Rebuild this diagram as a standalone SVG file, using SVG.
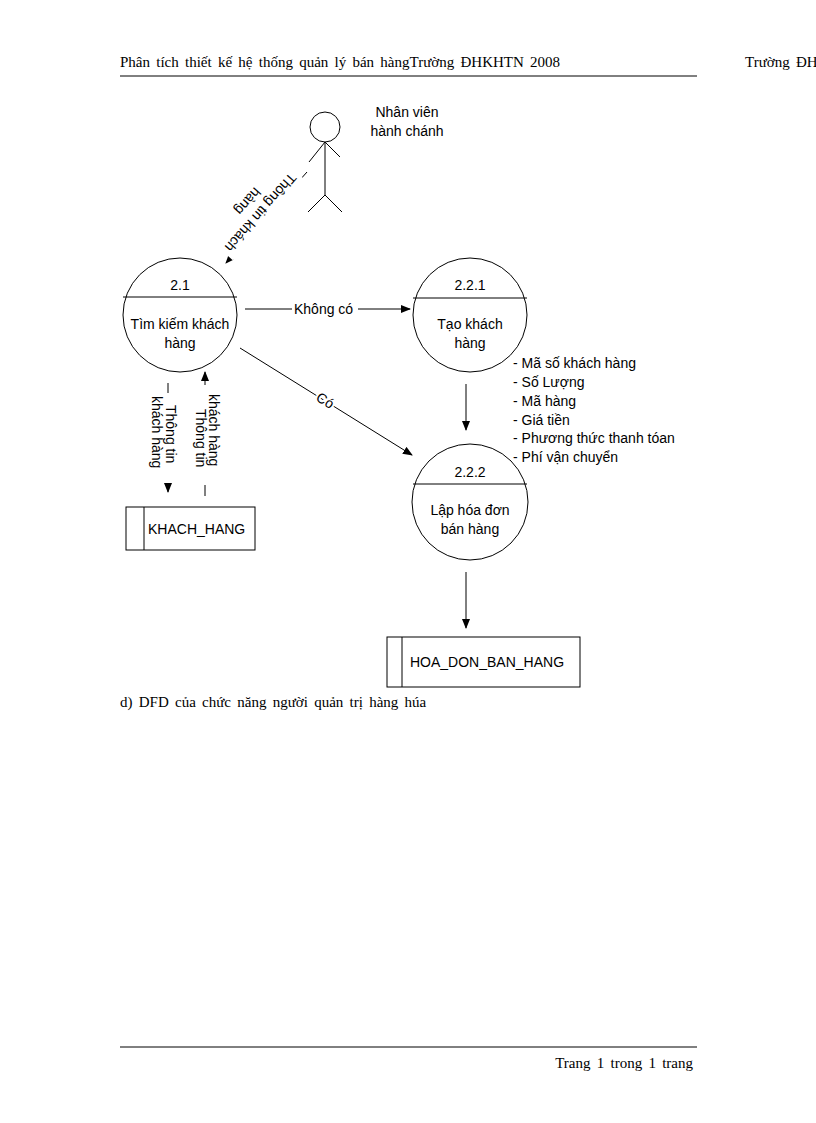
<svg xmlns="http://www.w3.org/2000/svg" width="816" height="1123" viewBox="0 0 816 1123">
<style>
.s{fill:none;stroke:#000;stroke-width:1}
.t{font-family:"Liberation Sans",Arial,sans-serif;font-size:14px;fill:#000}
.c{text-anchor:middle}
.h{font-family:"Liberation Serif","Times New Roman",serif;font-size:15px;word-spacing:2.5px;fill:#000}
</style>
<defs><marker id="a" markerWidth="10" markerHeight="8" refX="9" refY="4" orient="auto" markerUnits="userSpaceOnUse"><path d="M0,0L10,4L0,8z" fill="#000"/></marker></defs>
<rect width="816" height="1123" fill="#fff"/>
<text class="h" x="120" y="67">Phân tích thiết kế hệ thống quản lý bán hàngTrường  ĐHKHTN 2008</text>
<text class="h" x="745" y="67">Trường ĐH</text>
<line class="s" x1="120" y1="76" x2="697" y2="76"/>
<line class="s" x1="120" y1="1047" x2="697" y2="1047"/>
<text class="h" x="693" y="1068" text-anchor="end">Trang  1 trong  1 trang</text>
<text class="h" x="120" y="707">d) DFD của chức năng người quản trị hàng húa</text>

<g id="actor">
<circle class="s" cx="325" cy="127" r="15"/>
<line class="s" x1="325" y1="142" x2="325" y2="195"/>
<line class="s" x1="309" y1="162" x2="325" y2="142"/><line class="s" x1="340" y1="157" x2="325" y2="142"/>
<line class="s" x1="308" y1="212" x2="325" y2="195"/><line class="s" x1="342" y1="212" x2="325" y2="195"/>
<text class="t c" x="407" y="117">Nhân viên</text><text class="t c" x="407" y="136">hành chánh</text>
</g>
<g id="p21">
<circle class="s" cx="180" cy="315" r="57"/><line class="s" x1="123" y1="297" x2="237" y2="297"/>
<text class="t c" x="180" y="290">2.1</text><text class="t c" x="180" y="329">Tìm kiếm khách</text><text class="t c" x="180" y="348">hàng</text>
</g>
<g id="p221">
<circle class="s" cx="470" cy="315" r="57"/><line class="s" x1="413" y1="298" x2="527" y2="298"/>
<text class="t c" x="470" y="290">2.2.1</text><text class="t c" x="470" y="329">Tạo khách</text><text class="t c" x="470" y="348">hàng</text>
</g>
<g id="p222">
<circle class="s" cx="470" cy="502" r="58"/><line class="s" x1="413" y1="484" x2="527" y2="484"/>
<text class="t c" x="470" y="477">2.2.2</text><text class="t c" x="470" y="515">Lập hóa đơn</text><text class="t c" x="470" y="534">bán hàng</text>
</g>
<g id="kh">
<rect class="s" x="126" y="507" width="129" height="43"/><line class="s" x1="144" y1="507" x2="144" y2="550"/>
<text class="t" x="148" y="534">KHACH_HANG</text>
</g>
<g id="hd">
<rect class="s" x="387" y="637" width="193" height="50"/><line class="s" x1="402" y1="637" x2="402" y2="687"/>
<text class="t" x="410" y="667">HOA_DON_BAN_HANG</text>
</g>
<g id="edges">
<line class="s" x1="307" y1="172" x2="226" y2="263" marker-end="url(#a)"/>
<g transform="translate(290,172) rotate(131.5)"><rect x="-4" y="-16" width="108" height="38" fill="#fff"/><text class="t" x="0" y="0">Thông tin khách</text><text class="t c" x="50" y="17">hàng</text></g>
<line class="s" x1="245" y1="309" x2="410" y2="309" marker-end="url(#a)"/>
<rect x="292" y="300" width="66" height="18" fill="#fff"/><text class="t" x="294" y="314">Không có</text>
<line class="s" x1="240" y1="348" x2="412" y2="455" marker-end="url(#a)"/>
<text class="t" transform="translate(315,400) rotate(31)" x="0" y="0" fill="#fff" stroke="#fff" stroke-width="4">Có</text>
<text class="t" transform="translate(315,400) rotate(31)" x="0" y="0">Có</text>
<line class="s" x1="168" y1="383" x2="168" y2="492" marker-end="url(#a)"/>
<rect x="152" y="393" width="30" height="90" fill="#fff"/>
<text class="t" transform="translate(166,405) rotate(90)">Thông tin</text>
<text class="t" transform="translate(152,396) rotate(90)">khách hàng</text>
<line class="s" x1="205" y1="496" x2="205" y2="372" marker-end="url(#a)"/>
<rect x="194" y="385" width="30" height="100" fill="#fff"/>
<text class="t" transform="translate(196,409) rotate(90)">Thông tin</text>
<text class="t" transform="translate(209,394) rotate(90)">khách hàng</text>
<line class="s" x1="466" y1="384" x2="466" y2="430" marker-end="url(#a)"/>
<line class="s" x1="466" y1="572" x2="466" y2="628" marker-end="url(#a)"/>
<text class="t" x="513" y="368">- Mã số khách hàng</text>
<text class="t" x="513" y="387">- Số Lượng</text>
<text class="t" x="513" y="406">- Mã hàng</text>
<text class="t" x="513" y="425">- Giá tiền</text>
<text class="t" x="513" y="443">- Phương thức thanh tóan</text>
<text class="t" x="513" y="462">- Phí vận chuyển</text>
</g>
</svg>
